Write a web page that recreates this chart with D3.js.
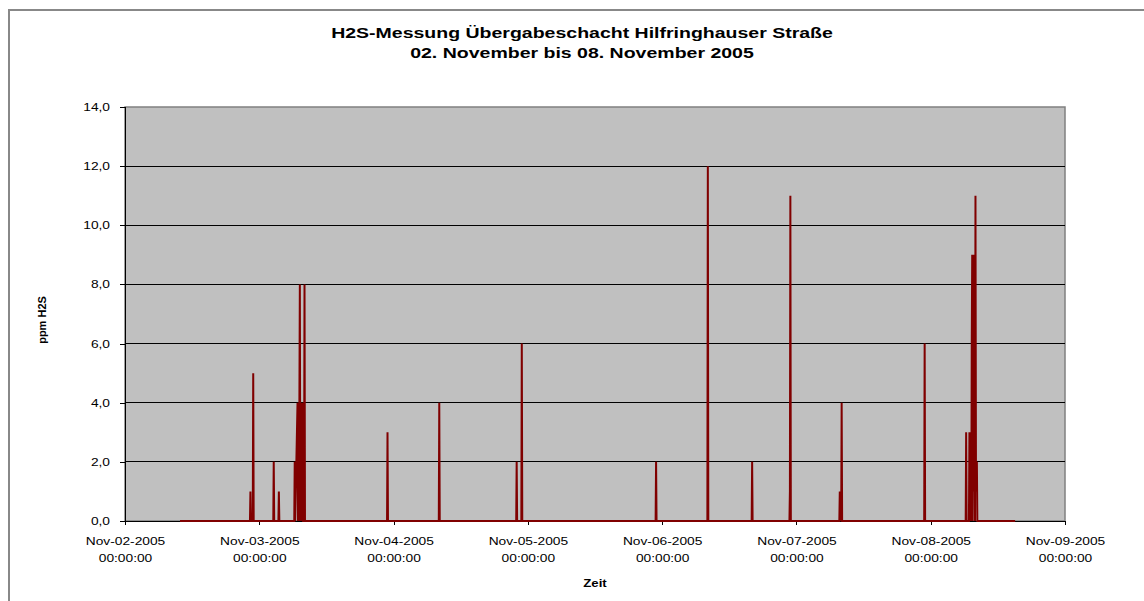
<!DOCTYPE html>
<html>
<head>
<meta charset="utf-8">
<script src="https://cdn.jsdelivr.net/npm/d3@7"></script>
<style>
  body { margin: 0; background: #fff; }
  svg { display: block; font-family: "Liberation Sans", Arial, sans-serif; }
  .axis path, .axis line { stroke: #000; shape-rendering: crispEdges; }
  .axis text { font-size: 11px; fill: #000; }
</style>
</head>
<body>
<div id="chart"></div>
<script>
// H2S readings, Übergabeschacht Hilfringhauser Straße, 02.-08.11.2005

const titleLines = ['H2S-Messung Übergabeschacht Hilfringhauser Straße', '02. November bis 08. November 2005'];
const yLabel = 'ppm H2S';
const xLabel = 'Zeit';

const yTicks = [0, 2, 4, 6, 8, 10, 12, 14];
const dayTicks = ['2005-11-02', '2005-11-03', '2005-11-04', '2005-11-05', '2005-11-06', '2005-11-07', '2005-11-08', '2005-11-09'];

// logged readings [time, ppm]
const readings = [
  ['2005-11-02 09:50', 0],
  ['2005-11-02 22:20', 0], ['2005-11-02 22:25', 1], ['2005-11-02 22:30', 0],
  ['2005-11-02 22:50', 0], ['2005-11-02 22:55', 5], ['2005-11-02 23:00', 0],
  ['2005-11-03 02:30', 0], ['2005-11-03 02:35', 2], ['2005-11-03 02:40', 0],
  ['2005-11-03 03:25', 0], ['2005-11-03 03:30', 1], ['2005-11-03 03:35', 0],
  ['2005-11-03 06:15', 0], ['2005-11-03 06:20', 2], ['2005-11-03 06:25', 0],
  ['2005-11-03 06:50', 4], ['2005-11-03 06:55', 0], ['2005-11-03 07:00', 4],
  ['2005-11-03 07:05', 0], ['2005-11-03 07:10', 4], ['2005-11-03 07:15', 8],
  ['2005-11-03 07:20', 0], ['2005-11-03 07:25', 4], ['2005-11-03 07:30', 0],
  ['2005-11-03 07:35', 4], ['2005-11-03 07:40', 2], ['2005-11-03 07:45', 4],
  ['2005-11-03 07:50', 0], ['2005-11-03 08:00', 0], ['2005-11-03 08:05', 8],
  ['2005-11-03 08:10', 0],
  ['2005-11-03 22:50', 0], ['2005-11-03 22:55', 3], ['2005-11-03 23:00', 0],
  ['2005-11-04 08:05', 0], ['2005-11-04 08:10', 4], ['2005-11-04 08:15', 0],
  ['2005-11-04 21:55', 0], ['2005-11-04 22:00', 2], ['2005-11-04 22:05', 0],
  ['2005-11-04 22:50', 0], ['2005-11-04 22:55', 6], ['2005-11-04 23:00', 0],
  ['2005-11-05 22:50', 0], ['2005-11-05 22:55', 2], ['2005-11-05 23:00', 0],
  ['2005-11-06 08:05', 0], ['2005-11-06 08:10', 12], ['2005-11-06 08:15', 0],
  ['2005-11-06 16:00', 0], ['2005-11-06 16:05', 2], ['2005-11-06 16:10', 0],
  ['2005-11-06 22:45', 0], ['2005-11-06 22:50', 1], ['2005-11-06 22:55', 11],
  ['2005-11-06 23:00', 0],
  ['2005-11-07 07:40', 0], ['2005-11-07 07:45', 1], ['2005-11-07 07:50', 0],
  ['2005-11-07 07:55', 1], ['2005-11-07 08:00', 0], ['2005-11-07 08:05', 4],
  ['2005-11-07 08:10', 0],
  ['2005-11-07 22:50', 0], ['2005-11-07 22:55', 6], ['2005-11-07 23:00', 0],
  ['2005-11-08 06:15', 0], ['2005-11-08 06:20', 3], ['2005-11-08 06:25', 0],
  ['2005-11-08 06:50', 0], ['2005-11-08 06:55', 3], ['2005-11-08 07:00', 0],
  ['2005-11-08 07:05', 1], ['2005-11-08 07:10', 3], ['2005-11-08 07:15', 0],
  ['2005-11-08 07:20', 6], ['2005-11-08 07:25', 9], ['2005-11-08 07:30', 0],
  ['2005-11-08 07:35', 6], ['2005-11-08 07:40', 9], ['2005-11-08 07:45', 1],
  ['2005-11-08 07:50', 3], ['2005-11-08 07:55', 0], ['2005-11-08 08:00', 11],
  ['2005-11-08 08:05', 2], ['2005-11-08 08:10', 1], ['2005-11-08 08:15', 2],
  ['2005-11-08 08:20', 0],
  ['2005-11-08 15:05', 0]
];

const W = 1144, H = 601;
const plot = { left: 125, right: 1065, top: 107, bottom: 521 };

const parseTime = d3.timeParse('%Y-%m-%d %H:%M');
const parseDay = d3.timeParse('%Y-%m-%d');
const data = readings.map(([t, v]) => ({ t: parseTime(t), v }));
const days = dayTicks.map(parseDay);

const x = d3.scaleTime().domain([days[0], days[days.length - 1]]).range([plot.left, plot.right]);
const y = d3.scaleLinear().domain([0, 14]).range([plot.bottom, plot.top]);

const svg = d3.select('#chart').append('svg').attr('width', W).attr('height', H);

// the original export is stretched sideways, so widen glyphs a bit
const widen = (sel, k) => sel.each(function () {
  const len = this.getComputedTextLength();
  if (len > 0) d3.select(this).attr('textLength', len * k).attr('lengthAdjust', 'spacingAndGlyphs');
});

// chart area border
svg.append('rect')
  .attr('x', 9).attr('y', 10).attr('width', W + 20).attr('height', H + 20)
  .attr('fill', '#fff').attr('stroke', '#888').attr('stroke-width', 2);

// plot area
svg.append('rect')
  .attr('x', plot.left).attr('y', plot.top)
  .attr('width', plot.right - plot.left).attr('height', plot.bottom - plot.top)
  .attr('fill', '#c0c0c0').attr('stroke', '#808080').attr('stroke-width', 1.5);

// gridlines
svg.append('g').selectAll('line')
  .data(yTicks.filter(d => d > 0 && d < 14))
  .join('line')
  .attr('x1', plot.left).attr('x2', plot.right)
  .attr('y1', d => y(d)).attr('y2', d => y(d))
  .attr('stroke', '#000').attr('shape-rendering', 'crispEdges');

// axes
const yAxis = svg.append('g').attr('class', 'axis')
  .attr('transform', `translate(${plot.left},0)`)
  .call(d3.axisLeft(y).tickValues(yTicks).tickSize(5).tickPadding(10)
    .tickFormat(d => d.toFixed(1).replace('.', ',')))
  .call(g => g.select('.domain').attr('d', `M-0,${plot.bottom}V${plot.top}`));
widen(yAxis.selectAll('.tick text'), 1.25);

const xAxis = svg.append('g').attr('class', 'axis')
  .attr('transform', `translate(0,${plot.bottom})`)
  .call(d3.axisBottom(x).tickValues(days).tickSize(4).tickFormat(''))
  .call(g => g.select('.domain').attr('d', `M${plot.left},0H${plot.right}`));

xAxis.selectAll('.tick').append('text')
  .attr('fill', '#000').attr('text-anchor', 'middle')
  .selectAll('tspan')
  .data(d => [d3.timeFormat('%b-%d-%Y')(d), d3.timeFormat('%H:%M:%S')(d)])
  .join('tspan')
  .attr('x', 0)
  .attr('y', (d, i) => 24 + i * 17)
  .text(d => d)
  .call(widen, 1.25);

// series
const line = d3.line().x(d => x(d.t)).y(d => y(d.v));
svg.append('path')
  .datum(data)
  .attr('d', line)
  .attr('fill', 'none')
  .attr('stroke', '#800000')
  .attr('stroke-width', 2)
  .attr('stroke-linejoin', 'miter');

// titles
svg.append('g').selectAll('text')
  .data(titleLines)
  .join('text')
  .attr('x', 582).attr('y', (d, i) => 38 + i * 20)
  .attr('text-anchor', 'middle')
  .attr('font-size', 15).attr('font-weight', 'bold')
  .text(d => d)
  .call(widen, 1.3);

svg.append('text')
  .attr('transform', `translate(46,320) rotate(-90)`)
  .attr('text-anchor', 'middle')
  .attr('font-size', 11).attr('font-weight', 'bold')
  .text(yLabel);

svg.append('text')
  .attr('x', 595).attr('y', 587)
  .attr('text-anchor', 'middle')
  .attr('font-size', 11).attr('font-weight', 'bold')
  .text(xLabel)
  .call(widen, 1.2);
</script>
</body>
</html>
